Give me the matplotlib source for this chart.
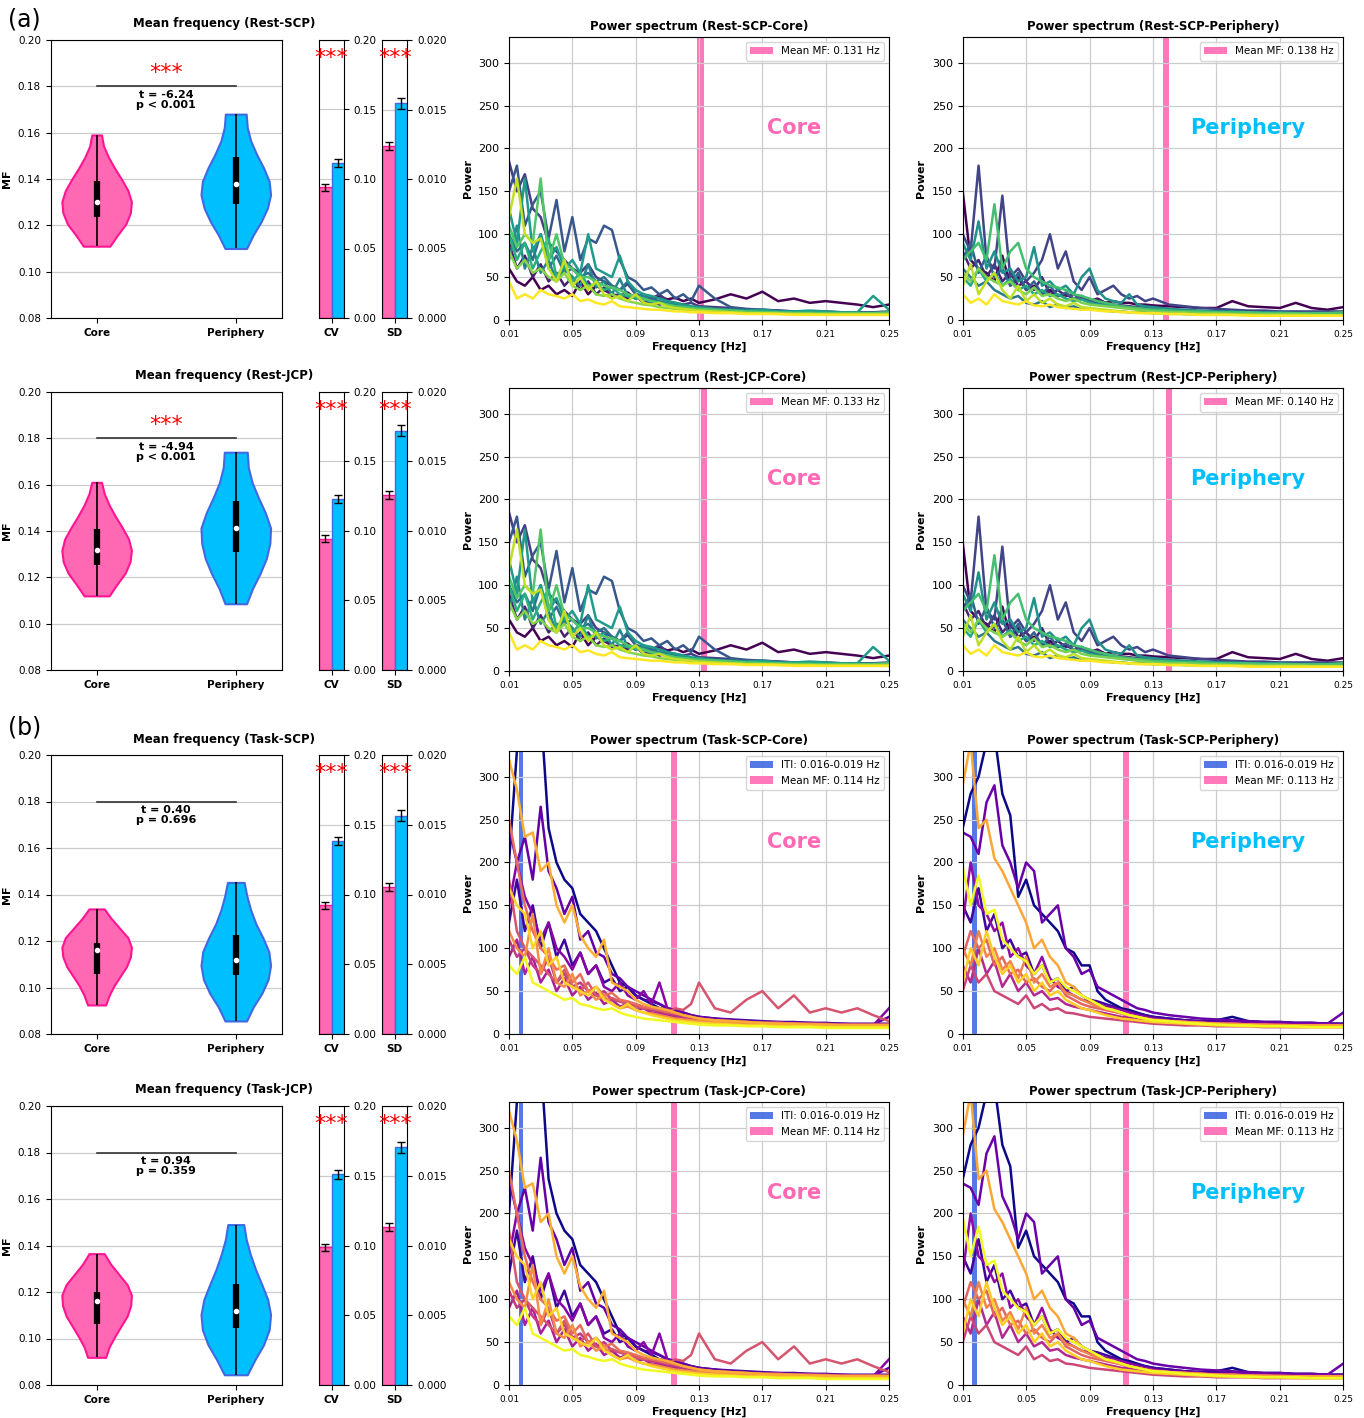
import numpy as np
import matplotlib
matplotlib.use("Agg")
import matplotlib.pyplot as plt

W, H = 1364, 1418

# ---- violin / bar data (one entry per row) ----
conditions = ["Rest-SCP", "Rest-JCP", "Task-SCP", "Task-JCP"]

core_min = [0.111, 0.112, 0.0925, 0.0919]
core_max = [0.159, 0.161, 0.1338, 0.1365]
core_q1 = [0.1238, 0.1252, 0.1057, 0.1061]
core_q3 = [0.1392, 0.1407, 0.1190, 0.1201]
core_med = [0.130, 0.1318, 0.1160, 0.1163]

periph_min = [0.110, 0.1086, 0.0856, 0.0844]
periph_max = [0.168, 0.174, 0.1452, 0.149]
periph_q1 = [0.129, 0.131, 0.1054, 0.1044]
periph_q3 = [0.1495, 0.153, 0.1226, 0.1234]
periph_med = [0.138, 0.1413, 0.1118, 0.1117]

# relative violin widths, bottom (min) to top (max)
core_shape_rest_scp = [0.38, 0.6, 0.84, 0.97, 1.0, 0.9, 0.72, 0.52, 0.34, 0.2, 0.14]
core_shape_rest_jcp = [0.36, 0.58, 0.82, 0.96, 1.0, 0.92, 0.74, 0.54, 0.36, 0.22, 0.14]
core_shape_task_scp = [0.26, 0.36, 0.5, 0.68, 0.86, 0.97, 1.0, 0.9, 0.66, 0.42, 0.22]
core_shape_task_jcp = [0.26, 0.36, 0.52, 0.7, 0.88, 0.98, 1.0, 0.88, 0.64, 0.4, 0.22]
periph_shape_rest_scp = [0.31, 0.5, 0.73, 0.91, 1.0, 0.96, 0.8, 0.6, 0.43, 0.33, 0.3]
periph_shape_rest_jcp = [0.31, 0.48, 0.7, 0.88, 0.98, 1.0, 0.85, 0.65, 0.47, 0.36, 0.33]
periph_shape_task_scp = [0.31, 0.5, 0.75, 0.93, 1.0, 0.95, 0.78, 0.58, 0.43, 0.32, 0.24]
periph_shape_task_jcp = [0.33, 0.55, 0.8, 0.96, 1.0, 0.92, 0.75, 0.57, 0.42, 0.3, 0.23]
core_shapes = [core_shape_rest_scp, core_shape_rest_jcp, core_shape_task_scp, core_shape_task_jcp]
periph_shapes = [periph_shape_rest_scp, periph_shape_rest_jcp, periph_shape_task_scp, periph_shape_task_jcp]

t_texts = ["t = -6.24\np < 0.001", "t = -4.94\np < 0.001", "t = 0.40\np = 0.696", "t = 0.94\np = 0.359"]
mf_significant = [True, True, False, False]

cv_core = [0.094, 0.0945, 0.0922, 0.0989]
cv_core_err = [0.0025, 0.0025, 0.0025, 0.0025]
cv_periph = [0.1116, 0.123, 0.1384, 0.1509]
cv_periph_err = [0.0028, 0.003, 0.003, 0.003]
sd_core = [0.01236, 0.01257, 0.01052, 0.01133]
sd_core_err = [0.0003, 0.0003, 0.0003, 0.0003]
sd_periph = [0.01545, 0.01722, 0.01566, 0.01705]
sd_periph_err = [0.0004, 0.0004, 0.0004, 0.0004]

mean_mf_core = [0.131, 0.133, 0.114, 0.114]
mean_mf_periph = [0.138, 0.140, 0.113, 0.113]
iti_band = (0.016, 0.019)

# ---- power spectra (subset of subjects) ----
freqs = [0.010, 0.015, 0.020, 0.025, 0.030, 0.035, 0.040, 0.045, 0.050, 0.055,
         0.060, 0.065, 0.070, 0.075, 0.080, 0.085, 0.090, 0.095, 0.100, 0.105,
         0.110, 0.115, 0.120, 0.125, 0.130, 0.14, 0.15, 0.16, 0.17, 0.18,
         0.19, 0.20, 0.21, 0.22, 0.23, 0.24, 0.25]

# ordered from dark to light colour
rest_core_power = [
    [60, 45, 40, 50, 35, 40, 30, 35, 28, 45, 30, 40, 35, 30, 28, 32, 25, 30, 22, 28, 24, 26, 22, 25, 20, 24, 30, 25, 33, 22, 25, 20, 22, 20, 18, 15, 18],
    [90, 60, 75, 50, 65, 45, 55, 40, 50, 35, 45, 30, 38, 28, 30, 25, 28, 20, 22, 18, 20, 16, 17, 14, 15, 13, 12, 11, 11, 10, 10, 10, 9, 9, 9, 9, 9],
    [185, 150, 170, 130, 120, 90, 80, 70, 60, 55, 65, 50, 45, 40, 35, 42, 30, 28, 25, 30, 22, 20, 18, 20, 16, 15, 14, 12, 12, 11, 10, 10, 10, 9, 9, 9, 10],
    [150, 180, 110, 135, 150, 95, 140, 80, 120, 70, 95, 90, 110, 105, 70, 50, 45, 35, 38, 30, 35, 25, 30, 22, 40, 25, 15, 13, 12, 11, 10, 10, 9, 9, 9, 9, 9],
    [100, 80, 90, 70, 100, 60, 75, 55, 60, 50, 55, 45, 50, 40, 35, 45, 30, 28, 25, 22, 20, 18, 17, 15, 14, 12, 11, 10, 10, 9, 9, 9, 8, 8, 8, 8, 8],
    [70, 110, 60, 85, 55, 70, 45, 60, 50, 40, 65, 38, 45, 30, 48, 28, 25, 30, 20, 22, 18, 17, 15, 14, 13, 12, 11, 10, 10, 9, 9, 9, 8, 8, 8, 8, 8],
    [130, 90, 165, 80, 100, 70, 85, 60, 70, 55, 100, 60, 55, 50, 75, 45, 35, 30, 28, 25, 22, 20, 18, 16, 15, 13, 12, 11, 12, 10, 10, 11, 10, 9, 9, 28, 12],
    [100, 70, 90, 60, 80, 95, 50, 65, 45, 55, 40, 42, 35, 38, 30, 28, 26, 24, 22, 20, 18, 16, 15, 14, 13, 12, 11, 10, 10, 9, 9, 9, 8, 8, 8, 8, 8],
    [110, 85, 100, 90, 165, 70, 100, 65, 60, 50, 50, 45, 40, 38, 35, 30, 28, 25, 22, 20, 18, 16, 15, 14, 13, 12, 11, 10, 9, 9, 8, 8, 8, 8, 8, 8, 9],
    [80, 60, 70, 55, 60, 50, 45, 55, 40, 35, 40, 30, 28, 30, 25, 22, 20, 18, 17, 15, 14, 13, 12, 11, 10, 9, 9, 8, 8, 8, 7, 7, 7, 7, 7, 7, 7],
    [120, 165, 100, 90, 95, 60, 45, 70, 40, 50, 35, 45, 30, 25, 28, 22, 30, 20, 18, 20, 16, 14, 13, 12, 11, 10, 9, 8, 8, 7, 7, 7, 6, 6, 6, 6, 6],
    [45, 25, 30, 25, 35, 30, 28, 25, 30, 22, 24, 20, 18, 22, 16, 15, 14, 13, 12, 12, 11, 10, 10, 9, 9, 8, 8, 7, 7, 7, 6, 6, 6, 6, 6, 6, 6],
]

rest_periph_power = [
    [150, 70, 60, 55, 45, 75, 40, 50, 35, 40, 30, 35, 28, 30, 25, 28, 22, 25, 20, 22, 20, 20, 18, 18, 17, 16, 15, 14, 14, 22, 16, 15, 14, 20, 14, 12, 15],
    [80, 60, 70, 50, 65, 45, 55, 40, 45, 35, 50, 30, 35, 28, 30, 25, 22, 24, 20, 18, 17, 16, 15, 14, 13, 12, 11, 10, 10, 10, 9, 9, 9, 9, 8, 8, 8],
    [100, 80, 180, 70, 60, 145, 50, 60, 45, 55, 70, 100, 60, 80, 45, 35, 50, 30, 35, 40, 30, 25, 28, 22, 25, 18, 16, 14, 13, 12, 11, 11, 10, 10, 10, 10, 10],
    [70, 90, 55, 75, 50, 60, 40, 55, 35, 45, 30, 40, 28, 32, 25, 28, 22, 20, 19, 18, 16, 15, 14, 13, 12, 11, 10, 10, 9, 9, 8, 8, 8, 8, 8, 8, 8],
    [60, 50, 40, 45, 35, 30, 25, 28, 20, 18, 22, 15, 18, 14, 16, 12, 13, 12, 11, 10, 10, 9, 9, 9, 8, 8, 7, 7, 7, 7, 6, 6, 6, 6, 6, 6, 6],
    [90, 70, 115, 60, 80, 55, 60, 45, 50, 85, 40, 45, 35, 40, 30, 50, 60, 35, 25, 22, 20, 30, 18, 16, 15, 13, 12, 11, 10, 10, 9, 9, 9, 8, 8, 8, 8],
    [50, 40, 60, 45, 55, 40, 48, 35, 40, 30, 35, 28, 30, 25, 22, 24, 20, 18, 17, 16, 15, 14, 13, 12, 11, 10, 10, 9, 9, 8, 8, 8, 7, 7, 7, 7, 7],
    [70, 80, 90, 70, 135, 60, 80, 90, 60, 50, 45, 40, 38, 35, 30, 28, 25, 22, 20, 18, 16, 15, 14, 13, 12, 11, 10, 10, 9, 9, 9, 8, 8, 8, 8, 8, 9],
    [55, 45, 60, 50, 45, 40, 45, 35, 30, 38, 28, 30, 25, 22, 25, 20, 18, 17, 16, 15, 14, 13, 12, 11, 10, 9, 9, 8, 8, 7, 7, 7, 7, 7, 6, 6, 6],
    [40, 65, 30, 45, 55, 35, 25, 40, 22, 30, 20, 25, 18, 16, 20, 15, 14, 13, 12, 11, 10, 9, 9, 8, 8, 7, 7, 6, 6, 6, 6, 5, 5, 5, 5, 5, 5],
    [30, 20, 25, 18, 30, 22, 20, 18, 22, 17, 16, 18, 15, 14, 13, 12, 12, 11, 10, 10, 9, 9, 8, 8, 8, 7, 7, 6, 6, 6, 5, 5, 5, 5, 5, 5, 5],
]

task_core_power = [
    [200, 330, 360, 340, 380, 240, 200, 180, 170, 140, 130, 120, 100, 80, 60, 55, 45, 40, 35, 30, 28, 25, 22, 20, 18, 16, 15, 14, 13, 12, 12, 11, 11, 10, 10, 10, 10],
    [130, 180, 120, 150, 100, 130, 90, 110, 80, 95, 70, 80, 60, 65, 50, 55, 45, 40, 38, 35, 30, 28, 25, 22, 20, 18, 17, 16, 15, 14, 14, 13, 13, 12, 12, 12, 12],
    [240, 200, 230, 180, 265, 190, 170, 140, 160, 110, 120, 95, 90, 70, 65, 55, 50, 45, 40, 35, 30, 28, 25, 22, 20, 18, 16, 15, 14, 14, 13, 13, 12, 12, 11, 11, 20],
    [150, 200, 160, 140, 110, 130, 100, 90, 75, 95, 70, 80, 55, 50, 60, 45, 40, 50, 35, 60, 30, 25, 22, 20, 18, 16, 15, 14, 13, 12, 12, 11, 11, 10, 10, 10, 30],
    [90, 110, 70, 90, 60, 75, 50, 65, 45, 55, 40, 48, 35, 40, 32, 35, 28, 30, 25, 24, 22, 20, 19, 18, 17, 15, 14, 13, 12, 12, 11, 11, 10, 10, 10, 10, 10],
    [110, 90, 100, 80, 70, 90, 60, 70, 55, 60, 50, 45, 50, 40, 38, 35, 33, 30, 28, 26, 24, 22, 20, 18, 17, 16, 15, 14, 13, 13, 12, 12, 12, 11, 11, 11, 11],
    [180, 120, 100, 90, 80, 70, 60, 75, 55, 50, 60, 45, 40, 42, 38, 35, 32, 30, 30, 28, 25, 30, 28, 35, 60, 30, 25, 40, 50, 30, 45, 25, 30, 25, 30, 22, 15],
    [250, 200, 150, 120, 100, 90, 75, 80, 60, 70, 50, 55, 45, 48, 40, 38, 35, 32, 30, 28, 26, 24, 22, 20, 18, 16, 15, 14, 13, 13, 12, 12, 11, 11, 11, 11, 11],
    [120, 100, 90, 140, 70, 100, 60, 55, 70, 45, 50, 40, 45, 35, 30, 32, 28, 25, 24, 22, 20, 18, 17, 16, 15, 14, 13, 12, 12, 11, 11, 10, 10, 10, 10, 10, 10],
    [320, 285, 230, 235, 190, 200, 150, 130, 150, 115, 100, 90, 110, 60, 55, 50, 40, 35, 32, 30, 28, 25, 22, 20, 18, 16, 15, 14, 13, 12, 12, 11, 11, 10, 10, 10, 10],
    [170, 150, 140, 100, 120, 80, 90, 60, 55, 50, 45, 55, 40, 35, 30, 35, 28, 25, 22, 20, 18, 16, 15, 14, 13, 12, 11, 10, 10, 9, 9, 9, 8, 8, 8, 8, 8],
    [80, 70, 90, 60, 55, 50, 45, 40, 42, 35, 33, 30, 28, 30, 25, 22, 20, 18, 17, 16, 15, 14, 13, 12, 11, 10, 10, 9, 9, 8, 8, 8, 7, 7, 7, 7, 7],
]

task_periph_power = [
    [240, 280, 300, 340, 350, 280, 255, 160, 180, 150, 140, 130, 120, 100, 95, 80, 80, 50, 40, 35, 30, 28, 25, 22, 20, 18, 16, 15, 16, 20, 15, 14, 14, 13, 13, 12, 12],
    [150, 130, 170, 120, 140, 100, 110, 90, 95, 70, 80, 60, 65, 50, 55, 45, 40, 38, 35, 32, 28, 26, 24, 22, 20, 18, 16, 15, 14, 14, 13, 13, 12, 12, 12, 12, 12],
    [235, 230, 210, 270, 290, 220, 200, 170, 200, 190, 130, 140, 150, 100, 90, 70, 75, 55, 50, 45, 40, 35, 30, 28, 25, 22, 20, 18, 17, 16, 15, 14, 14, 13, 13, 12, 25],
    [130, 200, 150, 140, 120, 130, 90, 100, 80, 70, 90, 65, 55, 50, 45, 40, 38, 35, 32, 30, 28, 25, 22, 20, 18, 16, 15, 14, 13, 13, 12, 12, 11, 11, 11, 11, 11],
    [80, 60, 100, 70, 85, 55, 70, 50, 60, 45, 50, 40, 42, 35, 32, 30, 28, 26, 24, 22, 20, 19, 18, 17, 16, 14, 13, 12, 12, 11, 11, 10, 10, 10, 10, 10, 10],
    [50, 80, 60, 70, 50, 45, 40, 35, 45, 30, 35, 28, 30, 25, 24, 22, 20, 19, 18, 17, 16, 15, 14, 13, 12, 11, 10, 10, 9, 9, 9, 8, 8, 8, 8, 8, 8],
    [90, 120, 100, 110, 80, 90, 70, 75, 60, 65, 55, 50, 60, 45, 40, 35, 32, 30, 28, 26, 24, 22, 20, 18, 17, 15, 14, 13, 12, 12, 11, 11, 11, 10, 10, 10, 10],
    [100, 80, 120, 90, 100, 75, 85, 65, 90, 60, 70, 55, 60, 48, 45, 40, 36, 32, 30, 27, 24, 22, 20, 18, 16, 15, 14, 13, 12, 12, 11, 11, 10, 10, 10, 10, 10],
    [290, 340, 240, 250, 205, 190, 170, 150, 130, 100, 110, 90, 80, 60, 55, 45, 40, 35, 30, 28, 25, 22, 20, 18, 16, 15, 14, 13, 12, 11, 11, 10, 10, 10, 10, 10, 10],
    [60, 100, 80, 120, 90, 70, 80, 60, 70, 50, 60, 45, 50, 40, 35, 30, 28, 25, 22, 20, 18, 17, 16, 15, 14, 13, 12, 11, 10, 10, 9, 9, 9, 8, 8, 8, 8],
    [195, 150, 185, 140, 145, 110, 100, 90, 85, 70, 80, 60, 65, 55, 50, 45, 40, 35, 30, 28, 25, 22, 20, 18, 16, 15, 13, 12, 11, 10, 10, 9, 9, 9, 8, 8, 8],
]

PINK = "#FF69B4"
PINK_EDGE = "#FF1493"
BLUE = "#00BFFF"
BLUE_EDGE = "#4169E1"

plt.rcParams["font.family"] = "DejaVu Sans"
fig = plt.figure(figsize=(W / 100, H / 100), dpi=100)


def px_axes(left, right, top, bottom):
    return fig.add_axes([left / W, 1 - bottom / H, (right - left) / W, (bottom - top) / H])


# pixel rows: (violin top, violin bottom, spectrum top, spectrum bottom)
row_px = [(40, 318, 37, 320), (392, 670, 388, 671), (755, 1034, 751, 1034), (1106, 1385, 1102, 1385)]


def draw_violins(ax, i):
    stats = []
    for lo, hi, shape, med in [(core_min[i], core_max[i], core_shapes[i], core_med[i]),
                               (periph_min[i], periph_max[i], periph_shapes[i], periph_med[i])]:
        coords = np.linspace(lo, hi, len(shape))
        stats.append(dict(coords=coords, vals=np.array(shape), mean=med, median=med, min=lo, max=hi))
    parts = ax.violin(stats, positions=[1, 2], widths=0.5, showextrema=False)
    for body, fc, ec in zip(parts["bodies"], [PINK, BLUE], [PINK_EDGE, BLUE_EDGE]):
        body.set_facecolor(fc)
        body.set_edgecolor(ec)
        body.set_linewidth(1.5)
        body.set_alpha(1)
    ax.vlines([1, 2], [core_min[i], periph_min[i]], [core_max[i], periph_max[i]], color="black", lw=1.2, zorder=3)
    ax.vlines([1, 2], [core_q1[i], periph_q1[i]], [core_q3[i], periph_q3[i]], color="black", lw=4.5, zorder=3)
    ax.scatter([1, 2], [core_med[i], periph_med[i]], color="white", s=9, zorder=4)

    ax.plot([1, 2], [0.18, 0.18], color="#333333", lw=1.2, zorder=2)
    if mf_significant[i]:
        ax.text(1.5, 0.1815, "***", color="red", ha="center", va="bottom", fontsize=16)
    ax.text(1.5, 0.1785, t_texts[i], ha="center", va="top", fontsize=8, fontweight="bold", linespacing=1.0)

    ax.set_xlim(0.67, 2.33)
    ax.set_ylim(0.08, 0.20)
    ax.set_yticks(np.arange(0.08, 0.201, 0.02))
    ax.set_yticklabels([f"{v:.2f}" for v in np.arange(0.08, 0.201, 0.02)])
    ax.set_xticks([1, 2])
    ax.set_xticklabels(["Core", "Periphery"], fontweight="bold", fontsize=8)
    ax.set_ylabel("MF", fontweight="bold", fontsize=8)
    ax.yaxis.grid(True, color="#cccccc", lw=0.9)
    ax.set_axisbelow(True)
    ax.tick_params(labelsize=7.5)


def draw_bars(ax, vals, errs, label, ymax, fmt):
    ax.bar([0, 1], vals, width=1, color=[PINK, BLUE], edgecolor=[PINK_EDGE, BLUE_EDGE], lw=1, zorder=2)
    ax.errorbar([0, 1], vals, yerr=errs, fmt="none", ecolor="black", capsize=3, lw=1, zorder=3)
    ax.set_xlim(-0.5, 1.5)
    ax.set_ylim(0, ymax)
    ticks = np.linspace(0, ymax, 5)
    ax.set_yticks(ticks)
    ax.set_yticklabels([fmt.format(v) for v in ticks])
    ax.yaxis.tick_right()
    ax.set_xticks([0.5])
    ax.set_xticklabels([label], fontweight="bold", fontsize=8)
    ax.yaxis.grid(True, color="#cccccc", lw=0.9)
    ax.set_axisbelow(True)
    ax.tick_params(labelsize=7.5)
    ax.text(0.5, ymax * 0.937, "***", color="red", ha="center", va="center", fontsize=16, clip_on=False)


def draw_spectrum(ax, curves, cmap, mf, region, cond, is_task):
    colors = plt.get_cmap(cmap)(np.linspace(0, 1, len(curves)))
    for p, c in zip(curves, colors):
        ax.plot(freqs, p, color=c, lw=1.8)
    if is_task:
        ax.axvspan(iti_band[0], iti_band[1], color="royalblue", alpha=0.9, lw=0, label="ITI: 0.016-0.019 Hz")
    ax.axvspan(mf - 0.002, mf + 0.002, color=PINK, alpha=0.9, lw=0, label=f"Mean MF: {mf:.3f} Hz")
    ax.set_xlim(0.01, 0.25)
    ax.set_ylim(0, 330)
    ax.set_xticks([0.01, 0.05, 0.09, 0.13, 0.17, 0.21, 0.25])
    ax.set_xticklabels(["0.01", "0.05", "0.09", "0.13", "0.17", "0.21", "0.25"], fontsize=6.5)
    ax.set_yticks(range(0, 301, 50))
    ax.tick_params(axis="y", labelsize=8)
    ax.grid(True, color="#cccccc", lw=0.9)
    ax.set_xlabel("Frequency [Hz]", fontweight="bold", fontsize=8, labelpad=2)
    ax.set_ylabel("Power", fontweight="bold", fontsize=8)
    ax.set_title(f"Power spectrum ({cond}-{region})", fontweight="bold", fontsize=8.5, pad=5)
    ax.legend(loc="upper right", fontsize=7.5, handlelength=2.2)
    ax.text(0.75, 0.68, region, transform=ax.transAxes, ha="center", va="center",
            fontsize=15, fontweight="bold", color=PINK if region == "Core" else BLUE)


for i, cond in enumerate(conditions):
    vt, vb, st, sb = row_px[i]
    ax_v = px_axes(50.7, 281.7, vt, vb)
    draw_violins(ax_v, i)
    fig.text(224 / W, 1 - (vt - 16) / H, f"Mean frequency ({cond})", ha="center", va="center",
             fontsize=8.5, fontweight="bold")

    ax_cv = px_axes(319, 344, vt, vb)
    draw_bars(ax_cv, [cv_core[i], cv_periph[i]], [cv_core_err[i], cv_periph_err[i]], "CV", 0.20, "{:.2f}")
    ax_sd = px_axes(382.3, 407.3, vt, vb)
    draw_bars(ax_sd, [sd_core[i], sd_periph[i]], [sd_core_err[i], sd_periph_err[i]], "SD", 0.020, "{:.3f}")

    is_task = cond.startswith("Task")
    cmap = "plasma" if is_task else "viridis"
    core_curves = task_core_power if is_task else rest_core_power
    periph_curves = task_periph_power if is_task else rest_periph_power
    ax_c = px_axes(509, 889, st, sb)
    draw_spectrum(ax_c, core_curves, cmap, mean_mf_core[i], "Core", cond, is_task)
    ax_p = px_axes(962.7, 1343.3, st, sb)
    draw_spectrum(ax_p, periph_curves, cmap, mean_mf_periph[i], "Periphery", cond, is_task)

fig.text(8 / W, 1 - 20 / H, "(a)", fontsize=17, va="center", ha="left")
fig.text(8 / W, 1 - 728 / H, "(b)", fontsize=17, va="center", ha="left")

fig.savefig("out.png", dpi=100, facecolor="white")
